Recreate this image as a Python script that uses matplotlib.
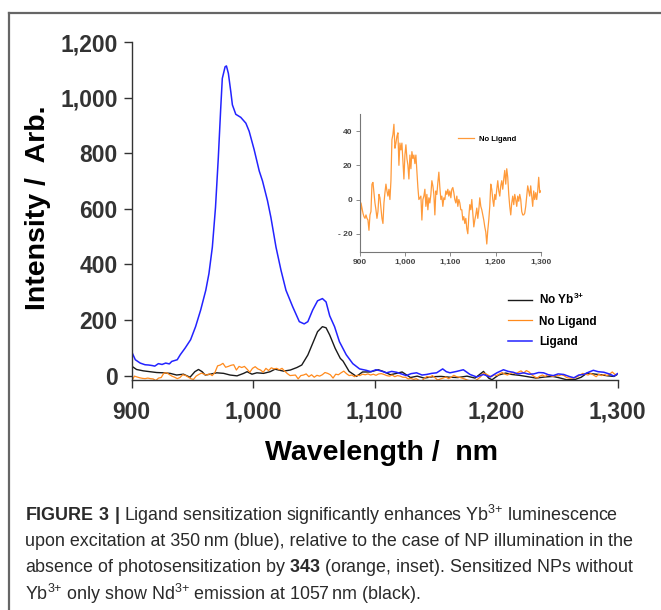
import matplotlib
matplotlib.use('Agg')
import matplotlib.pyplot as plt
from matplotlib import font_manager
from matplotlib.lines import Line2D
import numpy as np

# fonts: Arial-like for the chart, a narrow face for the caption if there is one
names = set(f.name for f in font_manager.fontManager.ttflist)
cap_font = 'Liberation Sans Narrow' if 'Liberation Sans Narrow' in names else 'Liberation Sans'
plt.rcParams['font.family'] = ['Liberation Sans', 'DejaVu Sans']
plt.rcParams['mathtext.fontset'] = 'custom'
plt.rcParams['mathtext.rm'] = 'Liberation Sans'
plt.rcParams['mathtext.bf'] = 'Liberation Sans:bold'

# ---- data ----
# Ligand (blue)
lig_nm = [900, 900.5, 903, 907, 911, 914, 917, 919, 922, 925, 928, 931, 933, 937.5,
          940, 944, 948.5, 952.6, 956.8, 961, 963.6, 966.4, 969, 971.3, 973.3,
          974.6, 976.9, 978, 979.6, 981.6, 982.9, 985.7, 989.8, 994, 996.7,
          1000.8, 1005, 1007.7, 1011.8, 1014.6, 1018.8, 1022.9, 1027, 1032.5,
          1038, 1042, 1045, 1049, 1053, 1057, 1060, 1063, 1067, 1071, 1076.6,
          1082, 1087.6, 1093, 1097, 1101, 1105, 1109.7, 1114, 1118, 1122, 1126,
          1130, 1134.5, 1139, 1142.7, 1147, 1151, 1156, 1159, 1162, 1167.5, 1173,
          1178.5, 1184, 1189.5, 1195, 1200.6, 1206, 1210, 1214, 1218, 1222.6,
          1227, 1231, 1235, 1239, 1243, 1247, 1251, 1255.6, 1260, 1264, 1268,
          1272, 1276, 1280, 1284, 1288.7, 1293, 1297, 1300]
lig_val = [122, 81, 57, 45, 39, 38, 36, 34, 43, 40, 45, 42, 51, 57,
           75, 99, 129, 176, 236, 307, 367, 462, 605, 783, 962,
           1069, 1111, 1114, 1087, 1021, 974, 940, 929, 908, 879,
           813, 736, 700, 629, 569, 462, 379, 307, 248,
           194, 186, 194, 236, 269, 277, 265, 215, 176, 122, 75,
           43, 24, 19, 14, 21, 17, 10, 15, 12, 6, 0,
           7, 10, 2, 4, 8, 10, 24, 14, 10, 15, 21,
           4, -5, 4, -5, 10, 21, 15, 12, 6, 10,
           5, 6, 11, 10, 3, 0, 6, 4, -3, -8, 2,
           4, 12, 19, 14, 12, 6, -2, 7]

# No Yb3+ (black)
noyb_nm = [900, 904, 909.6, 915, 920.6, 926, 931.6, 937, 942.6, 948, 952, 955, 958,
           960.5, 964.7, 970, 975.7, 981, 986.7, 992.2, 995, 999, 1003, 1008.6,
           1014, 1018, 1021, 1025, 1030.6, 1036, 1040, 1045, 1049, 1053, 1057,
           1060, 1063, 1067.5, 1071.7, 1074, 1079, 1085, 1090, 1096, 1103, 1107,
           1113, 1118, 1122.6, 1129.5, 1135, 1140.7, 1148, 1154.7, 1162, 1168.6,
           1176, 1182.6, 1189.6, 1193.8, 1196.6, 1202, 1207.8, 1213, 1219, 1226,
           1233, 1240, 1246.8, 1252, 1258, 1265, 1270, 1274.8, 1280, 1286, 1292,
           1297, 1300]
noyb_val = [34, 22, 17, 14, 11, 10, 8, 2, 5, -6, 14, 22, 14,
            2, 5, 10, 8, 2, -1, 8, 14, 5, 10, 8,
            14, 23, 20, 16, 20, 29, 38, 74, 116, 158, 176,
            172, 146, 98, 62, 52, 15, -3, 13, 13, 21, 15,
            3, 8, 13, -7, -2, -9, -4, -3, -6, -7,
            -2, -9, 15, -9, -15, 2, 9, 4, 1, -4,
            -9, -5, -3, -8, -15, -14, -6, 9, 6, 3, -1,
            -3, 5]

# No Ligand (orange) - same series in the main plot and the inset
nolig_val = [-21, -2, -5, -8, -10, -11, -9, -11, -12, -18,
             -9, -7, 9, 10, 4, -2, -6, -11, -7, 3,
             1, -5, -11, -14, -2, 4, 9, 5, 2, 6,
             0, 11, 35, 38, 44, 30, 33, 37, 39, 20,
             33, 29, 33, 23, 12, 26, 32, 24, 20, 12,
             26, 18, 28, 24, 26, 21, 26, 16, 7, 0,
             1, 2, -12, 0, 2, 6, -4, 3, -6, 1,
             -2, 3, 11, 8, 3, -9, 5, 3, 10, 16,
             7, 0, 2, -4, 1, 0, 5, 3, 6, 2,
             5, 1, 6, 7, 4, 0, -2, 2, -4, 0,
             -2, -6, -6, -12, -10, -14, -11, -17, -20, -10,
             -3, -6, 0, -8, -16, -12, -9, -5, -11, -6,
             1, -4, -6, -9, -12, -16, -19, -26, -18, -12,
             -4, 9, 6, 0, -4, 3, 0, 6, 11, 5,
             2, 8, 11, 6, 12, 17, 9, 18, 13, 3,
             -4, -9, -2, 2, -3, 3, 0, -4, 2, -1,
             3, 0, -7, -9, -9, -8, -4, 2, 8, 5,
             2, 8, 2, -4, 5, 0, 4, 0, 5, 13,
             4, 5]
nolig_nm = np.linspace(900, 1300, len(nolig_val))  # spectrometer grid

x_ticks = [900, 1000, 1100, 1200, 1300]
x_tick_labels = ['900', '1,000', '1,100', '1,200', '1,300']
y_ticks = [0, 200, 400, 600, 800, 1000, 1200]
y_tick_labels = ['0', '200', '400', '600', '800', '1,000', '1,200']
in_y_ticks = [-20, 0, 20, 40]
in_y_tick_labels = ['- 20', '0', '20', '40']

caption = [
    r'$\mathbf{FIGURE\ 3\ |}$ Ligand sensitization significantly enhances Yb$^{3{+}}$ luminescence',
    'upon excitation at 350\u2009nm (blue), relative to the case of NP illumination in the',
    r'absence of photosensitization by $\mathbf{343}$ (orange, inset). Sensitized NPs without',
    r'Yb$^{3{+}}$ only show Nd$^{3{+}}$ emission at 1057$\,$nm (black).',
]

BLUE = '#2323ff'
ORANGE = '#ff8a1c'
BLACK = '#1a1a1a'

fig = plt.figure(figsize=(6.61, 6.10), dpi=100)

# outer frame (right and bottom edges are cut off in the original)
fig.add_artist(Line2D([9 / 661, 9 / 661], [0, 1 - 13 / 610], transform=fig.transFigure,
                      color='#666666', lw=1.6))
fig.add_artist(Line2D([9 / 661, 1], [1 - 13 / 610, 1 - 13 / 610], transform=fig.transFigure,
                      color='#666666', lw=1.6))

# ---- main plot ----
ax = fig.add_axes([0.1992, 0.3770, 0.7352, 0.5541])
ax.plot(noyb_nm, noyb_val, color=BLACK, lw=1.0, label=r'No Yb$^{\mathbf{3{+}}}$')
ax.plot(nolig_nm, nolig_val, color=ORANGE, lw=0.9, label='No Ligand')
ax.plot(lig_nm, lig_val, color=BLUE, lw=1.1, label='Ligand')
ax.set_xlim(900, 1300)
ax.set_ylim(-16, 1200)
ax.set_xticks(x_ticks)
ax.set_xticklabels(x_tick_labels)
ax.set_yticks(y_ticks)
ax.set_yticklabels(y_tick_labels)
for s in ['top', 'right']:
    ax.spines[s].set_visible(False)
for s in ['left', 'bottom']:
    ax.spines[s].set_color('#333333')
    ax.spines[s].set_linewidth(1.0)
ax.tick_params(axis='both', direction='out', length=6, width=1.0, color='#333333',
               labelsize=16.5, labelcolor='#333333')
ax.tick_params(axis='x', pad=9)
ax.tick_params(axis='y', pad=4)
for lab in ax.get_xticklabels() + ax.get_yticklabels():
    lab.set_fontweight('bold')

ax.set_xlabel('Wavelength /  nm', fontsize=20.5, fontweight='bold', color='black')
ax.set_ylabel('Intensity /  Arb.', fontsize=20.5, fontweight='bold', color='black')
ax.xaxis.set_label_coords(0.514, -0.178)
ax.yaxis.set_label_coords(-0.166, 0.51)

ax.legend(loc='upper left', bbox_to_anchor=(0.775, 0.262), frameon=False,
          prop={'weight': 'bold', 'size': 8.5}, handlelength=2.0, handletextpad=0.6,
          labelspacing=0.75, borderpad=0, borderaxespad=0)

# ---- inset ----
axi = fig.add_axes([0.5446, 0.5874, 0.2734, 0.2257])
axi.plot(nolig_nm, nolig_val, color='#ff9a3a', lw=0.9, label='No Ligand')
axi.set_xlim(900, 1300)
axi.set_ylim(-30.5, 50)
axi.set_xticks(x_ticks)
axi.set_xticklabels(x_tick_labels)
axi.set_yticks(in_y_ticks)
axi.set_yticklabels(in_y_tick_labels)
for s in ['top', 'right']:
    axi.spines[s].set_visible(False)
for s in ['left', 'bottom']:
    axi.spines[s].set_color('#777777')
    axi.spines[s].set_linewidth(0.8)
axi.tick_params(axis='both', direction='out', length=3, width=0.6, color='#777777',
                labelsize=6, labelcolor='#444444', pad=2.5)
for lab in axi.get_xticklabels() + axi.get_yticklabels():
    lab.set_fontweight('bold')
axi.legend(loc='center left', bbox_to_anchor=(0.545, 0.818), frameon=False,
           prop={'weight': 'bold', 'size': 5.5}, handlelength=2.0, handletextpad=0.7,
           borderpad=0, borderaxespad=0)

# ---- caption ----
plt.rcParams['mathtext.rm'] = cap_font
cap_y = [515, 542, 568, 594]
for line, yp in zip(caption, cap_y):
    fig.text(25 / 661, 1 - yp / 610, line, fontsize=12.9, family=cap_font,
             color='#2a2a2a', ha='left', va='center')

fig.savefig('out.png', dpi=100)
